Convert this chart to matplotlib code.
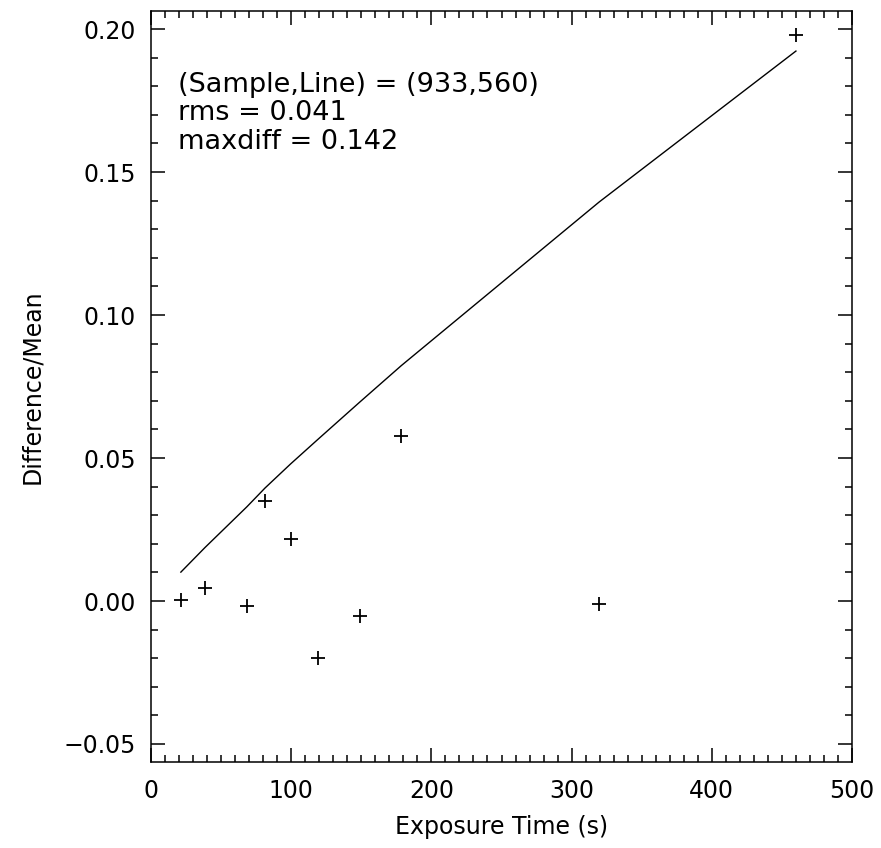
import matplotlib
matplotlib.use("Agg")
import matplotlib.pyplot as plt
from matplotlib.ticker import MultipleLocator, FuncFormatter

# === Data ===
exposure = [21.3, 38.5, 68.3, 81.3, 99.5, 119.0, 149.0, 178.5, 319.6, 460.0]
diff_mean = [0.0003, 0.0047, -0.0017, 0.0350, 0.0217, -0.0198, -0.0051, 0.0577, -0.0012, 0.1980]

# model curve, sampled at the same exposure times
model = [0.0101, 0.0187, 0.0329, 0.0395, 0.0479, 0.0565, 0.0696, 0.0823, 0.1395, 0.1923]

info_lines = ["(Sample,Line) = (933,560)", "rms = 0.041", "maxdiff = 0.142"]

# === Figure ===
plt.rcParams["font.family"] = "DejaVu Sans"
fig = plt.figure(figsize=(8.81, 8.48), dpi=100)
ax = fig.add_axes([0.1714, 0.1014, 0.7957, 0.8856])

ax.plot(exposure, model, color="black", lw=1.0)
ax.plot(exposure, diff_mean, linestyle="none", marker="+", color="black",
        markersize=10, markeredgewidth=1.3)

ax.set_xlim(0, 500)
ax.set_ylim(-0.0563, 0.2063)

ax.xaxis.set_major_locator(MultipleLocator(100))
ax.xaxis.set_minor_locator(MultipleLocator(10))
ax.yaxis.set_major_locator(MultipleLocator(0.05))
ax.yaxis.set_minor_locator(MultipleLocator(0.01))
ax.yaxis.set_major_formatter(FuncFormatter(lambda v, p: f"{v:.2f}".replace("-", "\u2212")))

ax.tick_params(which="both", direction="in", top=True, right=True, width=1.1)
ax.tick_params(which="major", length=10)
ax.tick_params(which="minor", length=5)
ax.tick_params(axis="x", which="major", labelsize=17, pad=12)
ax.tick_params(axis="y", which="major", labelsize=17, pad=11)

for sp in ax.spines.values():
    sp.set_linewidth(1.1)

ax.set_xlabel("Exposure Time (s)", fontsize=17, labelpad=9)
ax.set_ylabel("Difference/Mean", fontsize=17, labelpad=14)

# === Annotation text ===
for txt, yy in zip(info_lines, [0.892, 0.855, 0.816]):
    ax.text(0.038, yy, txt, transform=ax.transAxes, fontsize=19.5,
            va="baseline", ha="left")

fig.savefig("out.png", dpi=100)
